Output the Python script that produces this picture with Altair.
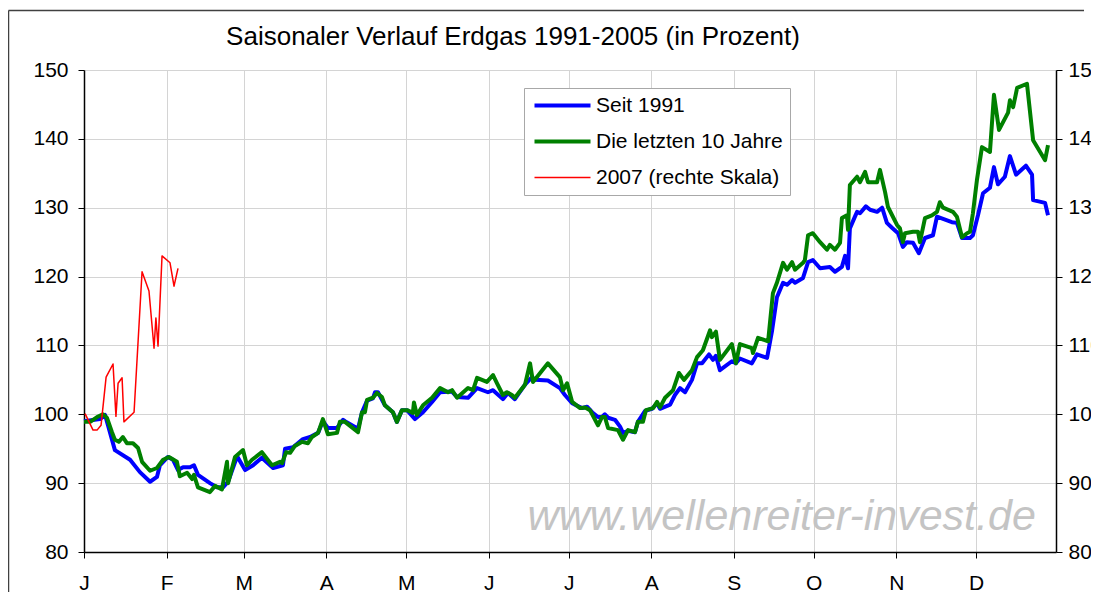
import altair as alt
import pandas as pd

FONT = "Liberation Sans"

# ---- data (day of year, percent) ----
blue_day = [0, 6, 7.9, 9, 11.6, 17.3, 21, 24.8, 27.4, 28.5, 31.5, 33.4, 35.3, 37.2, 39.8, 41.3, 42.8,
            47.3, 49.9, 52.2, 54.1, 57.5, 60.5, 63.5, 66.8, 71, 74.7, 75.5, 78.5, 82.2, 84.9, 87.9,
            89.7, 91.6, 95, 97.3, 98, 102.9, 104.4, 106.3, 108.5, 109.3, 110.4, 113, 116, 117.5,
            119.4, 121.3, 124.3, 127.3, 130.7, 133.7, 138.2, 140.1, 144.2, 147.6, 151.7, 153.6,
            157.3, 159.2, 161.8, 165.6, 168.2, 169.4, 174.2, 178.7, 180.6, 183.3, 187, 188.9, 190.8,
            193, 194.5, 195.6, 196.8, 199.4, 201.3, 202.4, 204.3, 206.9, 208, 210.7, 213.3, 215.2,
            216.3, 220.1, 221.9, 223.8, 225.7, 228.3, 230.2, 232.1, 234.7, 236.2, 237.3, 238.8,
            243.3, 244.8, 246.3, 250.8, 252.7, 256.5, 258.4, 260.2, 262.5, 264, 265.9, 267, 270,
            271.9, 273.7, 276.4, 280.1, 282, 284.6, 285.8, 286.9, 287.6, 289.5, 290.3, 291.4, 293.6,
            295.2, 297.8, 299.7, 301.5, 303.4, 305.7, 307.5, 309, 311.3, 313.5, 315.8, 318.8, 320.3,
            325.9, 327.8, 329.7, 332.7, 333.8, 335.7, 337.6, 340.2, 341.7, 343.2, 345.8, 347.7, 350,
            353.7, 356, 356.4, 360.9, 362]
blue_val = [99.0, 99.3, 99.9, 98.4, 94.8, 93.4, 91.6, 90.2, 90.9, 92.6, 93.8, 93.4, 91.9, 92.3, 92.3, 92.6, 91.2,
            90.0, 89.4, 89.4, 90.2, 93.9, 91.9, 92.6, 93.7, 92.2, 92.6, 95.0, 95.2, 96.4, 96.7, 97.3,
            99.0, 98.0, 98.0, 99.2, 99.0, 97.9, 100.3, 102.0, 102.3, 103.2, 103.2, 101.3, 100.3, 98.9,
            100.6, 100.6, 99.3, 100.3, 101.8, 103.2, 103.3, 102.5, 102.4, 103.8, 103.2, 103.5,
            102.2, 103.1, 102.2, 104.3, 105.4, 105.0, 104.9, 103.8, 102.8, 101.6, 100.9, 101.1, 100.3,
            99.6, 99.6, 100.0, 99.5, 99.2, 98.2, 97.3, 97.6, 97.4, 98.9, 100.5, 100.8, 101.6,
            100.8, 101.4, 102.8, 103.8, 103.2, 105.0, 107.4, 107.4, 108.7, 107.9, 108.5, 106.4,
            107.7, 107.4, 108.1, 107.4, 108.7, 108.2, 112.2, 117.0, 119.1, 118.8, 119.5, 119.1, 119.8,
            122.1, 122.4, 121.2, 121.4, 120.7, 121.4, 123.0, 121.2, 127.0, 128.7, 129.4, 129.2, 130.2,
            129.7, 129.4, 130.0, 127.8, 127.1, 126.3, 124.3, 125.0, 124.9, 123.4, 125.6, 126.0, 128.7,
            127.9, 127.8, 125.6, 125.6, 126.0, 128.9, 132.1, 132.9, 135.9, 133.4, 134.5, 137.5, 134.8,
            136.1, 134.8, 131.1, 130.7, 128.9]

green_day = [0, 2.3, 4.9, 7.1, 8.6, 10.5, 11.6, 13.1, 14.6, 16.1, 18.4, 20.3, 21.8, 24.8, 27.4, 29.7,
             31.9, 34.9, 36, 38.7, 40.6, 41.3, 42.8, 47.3, 49.2, 51.8, 53.7, 54.1, 56.7, 59.7, 61.2,
             63.1, 66.8, 70.6, 73.6, 74.4, 75.9, 77.4, 79.2, 81.9, 84.1, 85.6, 87.9, 89.7, 91.6, 95,
             96.1, 98, 102.9, 104.4, 105.5, 106.3, 108.5, 110, 111.9, 113, 116, 117.5, 119.4, 121.3,
             123.5, 123.9, 125, 127.3, 130.7, 133.7, 136.7, 138.2, 140.1, 144.2, 146.1, 147.6, 151.3,
             153.6, 155.1, 157.3, 158.8, 160.7, 161.8, 165.6, 167.5, 168.6, 174.2, 178.7, 179.9, 181.4,
             183.3, 186.3, 188.2, 190, 193, 194.5, 195.6, 196.8, 200.5, 202.4, 204.3, 206.9, 208,
             209.9, 211, 213.7, 215.2, 216.3, 218.2, 221.2, 223.4, 225.3, 228.3, 230.2, 232.4, 235.1,
             235.8, 237.3, 238.8, 243.3, 244.8, 246.3, 250.8, 251.2, 253.1, 256.9, 258.7, 260.2, 262.5,
             264, 265.9, 267, 270, 270.7, 271.9, 273.7, 276.4, 279, 280.1, 282, 283.9, 284.6, 286.5,
             286.9, 287.6, 290.3, 291.4, 293.3, 294.4, 297.8, 298.9, 300.8, 301.9, 305.3, 306.4, 307.5,
             308.3, 311.3, 313.2, 313.9, 315.8, 318.4, 320.3, 321.4, 322.6, 326.3, 327.8, 329.7, 331.6,
             332.7, 333.8, 335.3, 337.2, 340.2, 341.7, 343.6, 347, 347.7, 348.9, 350.4, 354.1, 356.4,
             360.9, 362]
green_val = [98.9, 98.9, 99.6, 100.0, 99.5, 97.4, 96.3, 96.0, 96.7, 95.8, 95.8, 95.1, 93.1, 91.8, 92.2, 93.4,
             93.8, 93.1, 91.0, 91.5, 90.6, 91.2, 89.4, 88.7, 89.6, 89.1, 93.1, 90.0, 93.8, 94.8, 92.6,
             93.4, 94.5, 92.6, 93.1, 92.9, 94.5, 94.4, 95.4, 96.0, 95.8, 96.7, 97.3, 99.3, 97.1, 97.3,
             98.9, 98.9, 97.4, 100.3, 100.3, 102.1, 102.4, 103.1, 102.5, 101.3, 100.3, 98.9, 100.6, 100.6,
             100.2, 101.7, 99.9, 101.3, 102.4, 103.8, 103.2, 103.5, 102.4, 103.8, 103.5, 105.3, 104.7,
             105.7, 104.5, 102.8, 103.2, 102.8, 102.4, 104.3, 107.4, 104.7, 107.4, 105.4, 103.5, 104.5,
             101.8, 100.9, 101.0, 100.6, 98.4, 99.6, 99.6, 98.0, 97.7, 96.3, 97.7, 97.4, 98.9,
             98.9, 100.6, 100.9, 101.8, 101.0, 102.4, 103.5, 106.0, 105.0, 106.4, 108.3, 109.3, 112.2,
             111.2, 112.0, 107.9, 110.2, 107.4, 110.2, 109.6, 108.9, 111.1, 110.6, 117.6, 119.1, 122.0,
             121.0, 122.1, 121.0, 122.0, 122.4, 126.0, 126.3, 125.0, 123.9, 124.6, 123.9, 124.9, 128.5, 128.9,
             126.8, 133.3, 134.5, 133.7, 135.2, 133.7, 133.7, 135.5, 132.3, 130.1, 127.5, 127.0, 125.0,
             126.3, 126.5, 126.5, 125.0, 128.5, 128.9, 129.4, 130.8, 130.0, 129.4, 128.7, 125.7, 126.3,
             126.5, 129.2, 134.0, 138.8, 138.1, 146.4, 141.3, 143.8, 145.6, 144.6, 147.4, 148.0, 139.8,
             136.9, 139.1]

red_day = [0.4, 3.4, 4.9, 6.4, 8.3, 10.9, 12, 12.8, 14.3, 15, 18.8, 21.8, 24.4, 26.3, 27, 27.8, 29.3, 32.3, 33.8, 35.3]
red_val = [100.1, 97.7, 97.7, 98.4, 105.4, 107.3, 99.7, 104.5, 105.3, 98.9, 100.3, 120.7, 117.9, 109.6,
           114.0, 109.9, 123.0, 122.0, 118.6, 121.2]

series_names = ["Seit 1991", "Die letzten 10 Jahre", "2007 (rechte Skala)"]
series_colors = ["#0000ff", "#008000", "#ff0000"]
series_widths = [4, 4, 1.5]

month_ticks = [0, 31, 60, 91, 121, 152, 182, 213, 244, 274, 305, 335]
month_labels = ["J", "F", "M", "A", "M", "J", "J", "A", "S", "O", "N", "D"]
y_ticks = [80, 90, 100, 110, 120, 130, 140, 150]

title_text = "Saisonaler Verlauf Erdgas 1991-2005 (in Prozent)"
watermark = "www.wellenreiter-invest.de"
wm_day, wm_val = 262, 83.2

# ---- tables ----
left_df = pd.concat([
    pd.DataFrame({"day": blue_day, "val": blue_val, "series": series_names[0], "o": range(len(blue_day))}),
    pd.DataFrame({"day": green_day, "val": green_val, "series": series_names[1], "o": range(len(green_day))}),
])
red_df = pd.DataFrame({"day": red_day, "val": red_val, "series": series_names[2], "o": range(len(red_day))})

label_expr = ("[" + ",".join("'%s'" % m for m in month_labels) + "][indexof(["
              + ",".join(str(t) for t in month_ticks) + "], datum.value)]")

x_scale = alt.Scale(domain=[0, 365], nice=False, zero=False)
y_scale = alt.Scale(domain=[80, 150], nice=False, zero=False)

legend = alt.Legend(title=None, orient="none", legendX=440, legendY=18, fillColor="white",
                    strokeColor="#a8a8a8", padding=7, symbolType="M-1,0H7", symbolSize=196,
                    labelFontSize=21, labelFont=FONT, labelColor="black", labelOffset=44,
                    rowPadding=14, labelLimit=400)

color_enc = alt.Color("series:N", scale=alt.Scale(domain=series_names, range=series_colors), legend=legend)
width_enc = alt.StrokeWidth("series:N", scale=alt.Scale(type="ordinal", domain=series_names, range=series_widths),
                            legend=legend)

x_axis = alt.Axis(values=month_ticks, labelExpr=label_expr, title=None, grid=True, gridColor="#d4d4d4",
                  domainColor="black", domainWidth=1.5, tickColor="black", tickSize=6, labelFontSize=21,
                  labelFont=FONT, labelColor="black", labelPadding=14, labelAngle=0, labelAlign="center")
y_axis = alt.Axis(values=y_ticks, title=None, grid=True, gridColor="#d4d4d4",
                  domainColor="black", domainWidth=1.5, tickColor="black",
                  tickSize=6, labelFontSize=21, labelFont=FONT,
                  labelColor="black", labelPadding=10)

left_lines = alt.Chart(left_df).mark_line(strokeJoin="round").encode(
    x=alt.X("day:Q", scale=x_scale, axis=x_axis),
    y=alt.Y("val:Q", scale=y_scale, axis=y_axis),
    color=color_enc,
    strokeWidth=width_enc,
    detail="series:N",
    order="o:Q",
)

wm = alt.Chart(pd.DataFrame({"day": [wm_day], "val": [wm_val], "t": [watermark]})).mark_text(
    font=FONT, fontSize=43, fontStyle="italic", color="#c4c4c4", align="center", baseline="alphabetic"
).encode(x=alt.X("day:Q", scale=x_scale, axis=x_axis), y=alt.Y("val:Q", scale=y_scale, axis=y_axis), text="t:N")

deco = pd.DataFrame({"t": [title_text]})
title_mark = alt.Chart(deco).mark_text(
    font=FONT, fontSize=26, color="black", align="center", baseline="alphabetic"
).encode(x=alt.value(429), y=alt.value(-25), text="t:N")

# outer chart border: left edge and top edge (the rest lies outside the picture)
frame_left = alt.Chart(deco).mark_rule(stroke="#404040", strokeWidth=1.5, clip=False).encode(
    x=alt.value(-75.5), y=alt.value(-59.5), y2=alt.value(560))
frame_top = alt.Chart(deco).mark_rule(stroke="#404040", strokeWidth=1.5, clip=False).encode(
    x=alt.value(-75.5), x2=alt.value(1000), y=alt.value(-59.5))

left = alt.layer(wm, left_lines, frame_left, frame_top, title_mark)

red = alt.Chart(red_df).mark_line(strokeJoin="round").encode(
    x=alt.X("day:Q", scale=x_scale, axis=x_axis),
    y=alt.Y("val:Q", scale=y_scale, axis=alt.Axis(values=y_ticks, title=None, grid=False, orient="right",
                                                   domainColor="black", domainWidth=1.5, tickColor="black",
                                                   tickSize=6, labelFontSize=21, labelFont=FONT,
                                                   labelColor="black", labelPadding=6)),
    color=color_enc,
    strokeWidth=width_enc,
    order="o:Q",
)

chart = alt.layer(left, red).resolve_scale(y="independent").properties(
    width=972, height=482,
    autosize=alt.AutoSizeParams(type="none"),
    padding={"left": 76, "top": 62, "right": 35, "bottom": 40},
).configure_view(stroke="#606060", strokeWidth=1).configure(background="white")

chart.save("out.html", embed_options={"renderer": "svg", "actions": False})
